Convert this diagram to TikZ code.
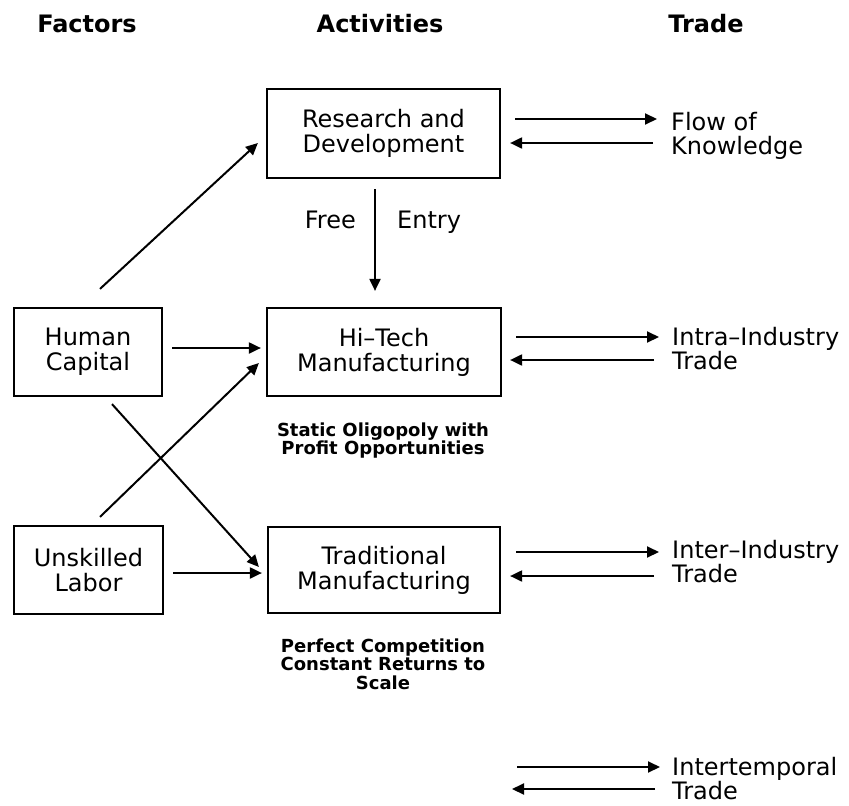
\documentclass[tikz,border=0pt]{standalone}
\usepackage{fontspec}
\setmainfont{DejaVu Sans}
\usetikzlibrary{arrows.meta,calc}
\begin{document}
\begin{tikzpicture}[x=1pt,y=-1pt,
  box/.style={draw,line width=2.2pt,rectangle,align=center,inner sep=0pt,font=\fontsize{24}{25}\selectfont},
  arr/.style={line width=2pt,-{Triangle[length=12pt,width=11pt]}},
  hdr/.style={font=\fontsize{24}{25}\selectfont\bfseries,anchor=base,inner sep=0pt},
  lbl/.style={align=left,anchor=north west,inner sep=0pt,font=\fontsize{24}{24}\selectfont},
  note/.style={align=center,anchor=north,inner sep=0pt,font=\fontsize{18}{18.5}\selectfont\bfseries},
  lab/.style={inner sep=0pt,font=\fontsize{24}{25}\selectfont}]
\useasboundingbox (0,0) rectangle (849,806);
% headers
\node[hdr] (hf) at (87,32) {Factors};
\node[hdr] (ha) at (380,32) {Activities};
\node[hdr] (htr) at (706,32) {Trade};
% boxes
\node[box,minimum width=233pt,minimum height=89pt] (rd) at (383.5,133.5) {Research and\\Development};
\node[box,minimum width=234pt,minimum height=88pt] (ht) at (384,352) {Hi--Tech\\Manufacturing};
\node[box,minimum width=232pt,minimum height=86pt] (tm) at (384,570) {Traditional\\Manufacturing};
\node[box,minimum width=148pt,minimum height=88pt] (hc) at (88,352) {Human\\Capital};
\node[box,minimum width=149pt,minimum height=88pt] (ul) at (88.5,570) {Unskilled\\Labor};
% labels
\node[lab,anchor=base east] (free) at (356,228) {Free};
\node[lab,anchor=base west] (entry) at (397,228) {Entry};
\node[note] (n1) at (383,422.3) {Static Oligopoly with\\Profit Opportunities};
\node[note] (n2) at (383,638.3) {Perfect Competition\\Constant Returns to\\Scale};
\node[lbl] (fk) at (671,111.8) {Flow of\\Knowledge};
\node[lbl] (ia) at (672,326.8) {Intra--Industry\\Trade};
\node[lbl] (ie) at (672,540) {Inter--Industry\\Trade};
\node[lbl] (it) at (672,757) {Intertemporal\\Trade};
% factor arrows
\draw[arr] ([xshift=12pt,yshift=18pt]hc.north) -- ([xshift=-8pt,yshift=-9.5pt]rd.west);
\draw[arr] ($(hc.east)+(9,-4)$) -- ($(ht.west)+(-5,-4)$);
\draw[arr] ($(hc.south)+(24,7)$) -- ($(tm.west)+(-8,-3)$);
\draw[arr] ($(ul.north)+(11.5,-8)$) -- ($(ht.west)+(-7,11)$);
\draw[arr] ($(ul.east)+(9,3)$) -- ($(tm.west)+(-5,3)$);
% free entry
\draw[arr] ($(rd.south)+(-8.5,10)$) -- ($(ht.north)+(-9,-16)$);
% trade arrows
\draw[arr] ($(rd.east)+(14,-14.5)$) -- ($(rd.east -| fk.west)+(-14,-14.5)$);
\draw[arr] ($(rd.east -| fk.west)+(-18,9.5)$) -- ($(rd.east)+(9,9.5)$);
\draw[arr] ($(ht.east)+(14,-15)$) -- ($(ht.east -| ia.west)+(-13,-15)$);
\draw[arr] ($(ht.east -| ia.west)+(-18,8)$) -- ($(ht.east)+(8,8)$);
\draw[arr] ($(tm.east)+(15,-18)$) -- ($(tm.east -| ie.west)+(-13,-18)$);
\draw[arr] ($(tm.east -| ie.west)+(-18,6)$) -- ($(tm.east)+(9,6)$);
\draw[arr] ($(it.north west)+(-155,10)$) -- ($(it.north west)+(-12,10)$);
\draw[arr] ($(it.north west)+(-17,32)$) -- ($(it.north west)+(-160,32)$);
\end{tikzpicture}
\end{document}
